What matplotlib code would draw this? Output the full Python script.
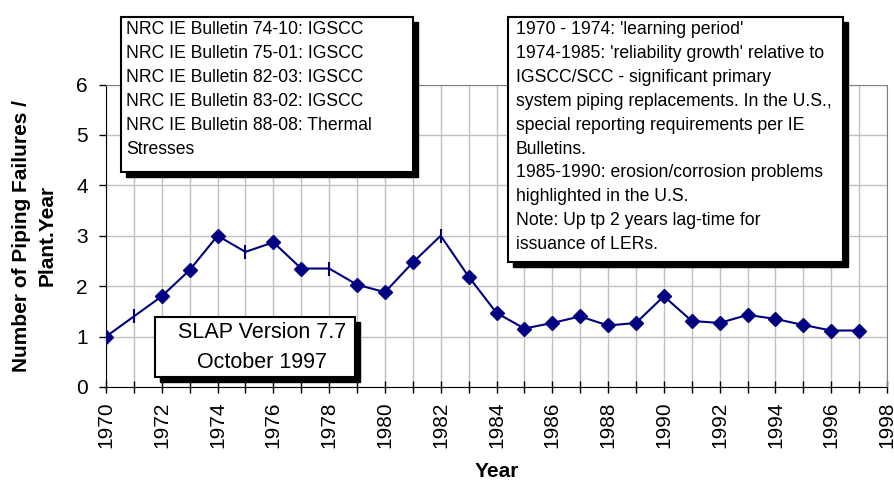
import numpy as np
import matplotlib
matplotlib.use("Agg")
import matplotlib.pyplot as plt
from matplotlib.patches import Rectangle

plt.rcParams["font.family"] = ["Liberation Sans", "DejaVu Sans"]

years = list(range(1970, 1998))
failures = [1.00, 1.40, 1.80, 2.32, 3.00, 2.68, 2.87, 2.35, 2.35, 2.03,
            1.88, 2.47, 3.00, 2.19, 1.47, 1.16, 1.27, 1.40, 1.22, 1.27,
            1.80, 1.31, 1.27, 1.43, 1.35, 1.23, 1.12, 1.12]
# years plotted with a plain vertical tick instead of a diamond
tick_marker_years = [1971, 1975, 1978, 1982]

bulletins = ["NRC IE Bulletin 74-10: IGSCC",
             "NRC IE Bulletin 75-01: IGSCC",
             "NRC IE Bulletin 82-03: IGSCC",
             "NRC IE Bulletin 83-02: IGSCC",
             "NRC IE Bulletin 88-08: Thermal",
             "Stresses"]
notes = ["1970 - 1974: 'learning period'",
         "1974-1985: 'reliability growth' relative to",
         "IGSCC/SCC - significant primary",
         "system piping replacements. In the U.S.,",
         "special reporting requirements per IE",
         "Bulletins.",
         "1985-1990: erosion/corrosion problems",
         "highlighted in the U.S.",
         "Note: Up tp 2 years lag-time for",
         "issuance of LERs."]
version = ["SLAP Version 7.7", "October 1997"]

NAVY = "#000080"
W, H = 895, 482

fig = plt.figure(figsize=(W / 100, H / 100), dpi=100)
ax = fig.add_axes([106 / W, 1 - 387 / H, 781 / W, (387 - 84.5) / H])

yrs = np.array(years)
vals = np.array(failures)
is_tick = np.isin(yrs, tick_marker_years)
ax.plot(yrs, vals, color=NAVY, lw=1.5, zorder=3)
ax.plot(yrs[~is_tick], vals[~is_tick], ls="none", marker="D", ms=7.5,
        color=NAVY, zorder=4)
ax.plot(yrs[is_tick], vals[is_tick], ls="none", marker="|", ms=10, mew=1.5,
        color=NAVY, zorder=4)

ax.set_xlim(1970, 1998)
ax.set_ylim(0, 6)
ax.set_xticks(range(1970, 1999))
ax.set_xticklabels([str(y) if y % 2 == 0 else "" for y in range(1970, 1999)],
                   rotation=90, fontsize=15)
ax.set_yticks(range(0, 7))
ax.set_yticklabels([str(v) for v in range(0, 7)], fontsize=15)
ax.tick_params(axis="x", direction="inout", length=9, width=1, pad=6)
ax.tick_params(axis="y", direction="out", length=5, width=1, pad=8)
ax.grid(True, color="#c0c0c0", lw=1)
ax.set_axisbelow(True)
for s in ("top", "right"):
    ax.spines[s].set_color("#808080")
for s in ("left", "bottom"):
    ax.spines[s].set_color("black")

ax.set_ylabel("Number of Piping Failures /\nPlant.Year", fontsize=15,
              fontweight="bold", linespacing=1.45)
ax.yaxis.set_label_coords(-0.063, 0.5)
ax.set_xlabel("Year", fontsize=15, fontweight="bold")
ax.xaxis.set_label_coords(0.5, -0.248)


def box(x0, y0, x1, y1):
    # pixel coords from top-left -> figure coords, black drop shadow
    sh = Rectangle(((x0 + 5) / W, 1 - (y1 + 5) / H), (x1 - x0) / W, (y1 - y0) / H,
                   transform=fig.transFigure, facecolor="black", edgecolor="black",
                   zorder=5)
    bx = Rectangle((x0 / W, 1 - y1 / H), (x1 - x0) / W, (y1 - y0) / H,
                   transform=fig.transFigure, facecolor="white", edgecolor="black",
                   lw=1.5, zorder=6)
    fig.patches.extend([sh, bx])


box(121, 17, 413, 172)
for i, line in enumerate(bulletins):
    fig.text(126 / W, 1 - (30 + 23.8 * i) / H, line, fontsize=12.7,
             va="center", ha="left", zorder=7)

box(508, 17, 843, 262)
for i, line in enumerate(notes):
    fig.text(516 / W, 1 - (30 + 23.8 * i) / H, line, fontsize=12.7,
             va="center", ha="left", zorder=7)

box(155, 317, 355, 377)
for i, line in enumerate(version):
    fig.text(262 / W, 1 - (333 + 29 * i) / H, line, fontsize=15.5,
             va="center", ha="center", zorder=7)

fig.savefig("out.png", dpi=100)
